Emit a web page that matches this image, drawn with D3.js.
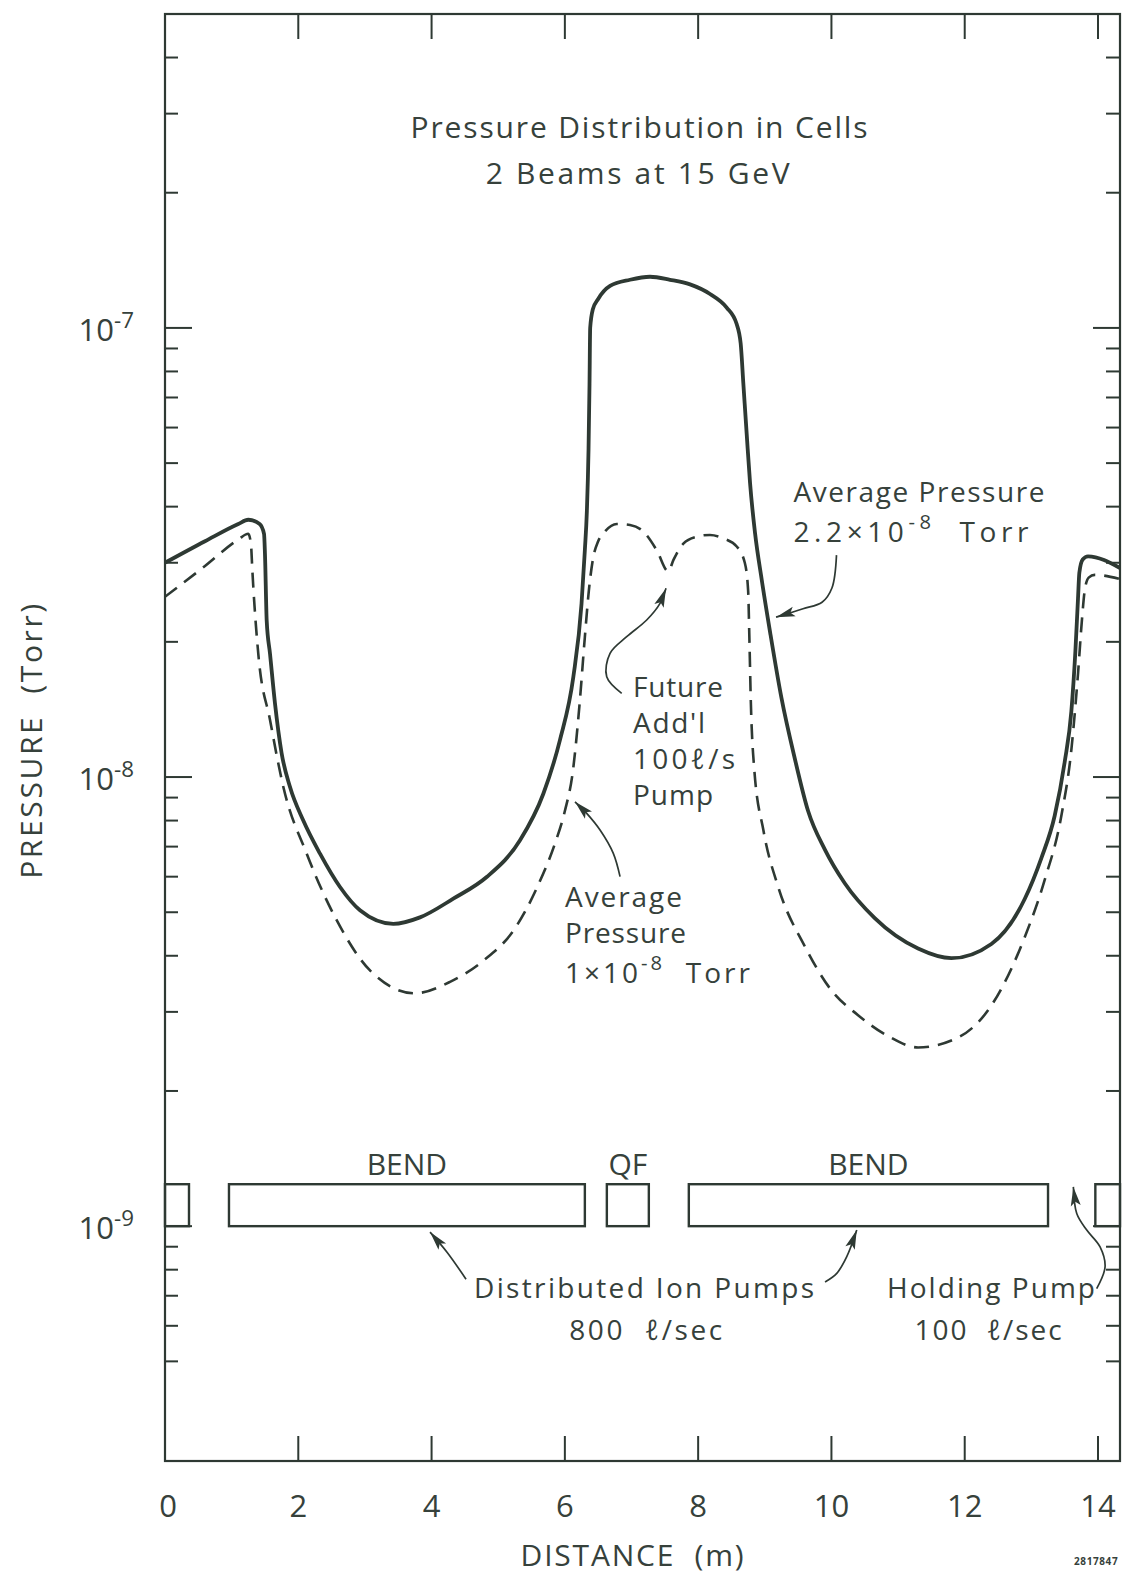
<!DOCTYPE html>
<html>
<head>
<meta charset="utf-8">
<script src="https://cdn.jsdelivr.net/npm/d3@7"></script>
<style>
  body { margin: 0; background: #fff; }
  svg text { font-family: "Open Sans", Lato, sans-serif; font-weight: 400; fill: #36413b; }
</style>
</head>
<body>
<div id="chart"></div>
<script>
let width = 1129;
let height = 1582;
let ink = "#2e3933";

// Pressure along the cell, full line (2 beams, present pumps)
const solidX = [0, 0.6, 1.1, 1.25, 1.42, 1.486, 1.50, 1.526, 1.576, 1.65, 1.75, 1.876, 2.075, 2.326,
  2.626, 2.926, 3.426, 3.826, 4.326, 4.827, 5.327, 5.677, 5.927, 6.127, 6.25, 6.30, 6.33, 6.355,
  6.37, 6.38, 6.42, 6.5, 6.678, 6.978, 7.278, 7.578, 7.878, 8.178, 8.428, 8.578, 8.638, 8.678,
  8.728, 8.779, 8.854, 8.954, 9.08, 9.25, 9.45, 9.65, 9.9, 10.2, 10.65, 11.3, 11.8, 12.4, 12.9,
  13.15, 13.35, 13.5, 13.6, 13.66, 13.7, 13.72, 13.77, 13.85, 14.33];
const solidP = [3.0e-8, 3.35e-8, 3.66e-8, 3.74e-8, 3.66e-8, 3.48e-8, 3.14e-8, 2.23e-8, 1.88e-8,
  1.46e-8, 1.13e-8, 9.5e-9, 8.0e-9, 6.75e-9, 5.69e-9, 5.05e-9, 4.71e-9, 4.87e-9, 5.36e-9, 5.99e-9,
  7.23e-9, 9.18e-9, 1.21e-8, 1.67e-8, 2.43e-8, 3.2e-8, 3.9e-8, 5.35e-8, 7.5e-8, 1.0e-7, 1.1e-7,
  1.16e-7, 1.24e-7, 1.28e-7, 1.30e-7, 1.28e-7, 1.25e-7, 1.19e-7, 1.11e-7, 1.02e-7, 9.24e-8,
  7.53e-8, 5.82e-8, 4.51e-8, 3.49e-8, 2.75e-8, 2.1e-8, 1.5e-8, 1.1e-8, 8.4e-9, 6.9e-9, 5.8e-9,
  4.85e-9, 4.15e-9, 3.95e-9, 4.25e-9, 5.35e-9, 6.6e-9, 8.2e-9, 1.08e-8, 1.4e-8, 1.9e-8, 2.5e-8,
  2.85e-8, 3.05e-8, 3.1e-8, 2.92e-8];

// Pressure with the future additional 100 l/s pump (dashed)
const dashedX = [0, 0.6, 1.1, 1.25, 1.29, 1.31, 1.325, 1.40, 1.576, 1.776, 2.126, 2.576, 3.076,
  3.75, 4.277, 4.777, 5.25, 5.6, 5.85, 6.0, 6.12, 6.22, 6.30, 6.36, 6.42, 6.5, 6.6, 6.778, 6.978,
  7.178, 7.378, 7.553, 7.628, 7.778, 7.979, 8.178, 8.378, 8.579, 8.70, 8.75, 8.77, 8.79, 8.84,
  8.98, 9.2, 9.6, 10.0, 10.4, 10.85, 11.3, 11.9, 12.4, 12.9, 13.2, 13.45, 13.6, 13.7, 13.76,
  13.8, 13.86, 13.95, 14.33];
const dashedP = [2.52e-8, 2.95e-8, 3.38e-8, 3.48e-8, 3.3e-8, 2.9e-8, 2.65e-8, 1.88e-8, 1.34e-8,
  9.5e-9, 6.75e-9, 4.8e-9, 3.71e-9, 3.3e-9, 3.5e-9, 3.9e-9, 4.6e-9, 5.75e-9, 7.1e-9, 8.4e-9,
  1.03e-8, 1.45e-8, 2.05e-8, 2.6e-8, 3.05e-8, 3.35e-8, 3.52e-8, 3.66e-8, 3.64e-8, 3.52e-8,
  3.2e-8, 2.87e-8, 3.04e-8, 3.31e-8, 3.43e-8, 3.46e-8, 3.4e-8, 3.26e-8, 3.0e-8, 2.6e-8, 2.0e-8,
  1.48e-8, 1.05e-8, 7.6e-9, 5.7e-9, 4.2e-9, 3.35e-9, 2.95e-9, 2.65e-9, 2.5e-9, 2.63e-9, 3.1e-9,
  4.4e-9, 5.9e-9, 8.2e-9, 1.15e-8, 1.7e-8, 2.25e-8, 2.6e-8, 2.78e-8, 2.82e-8, 2.76e-8];

// magnets / distributed pumps along the cell (m)
const magnetName = ["", "BEND", "QF", "BEND", ""];
const magnetStart = [0, 0.96, 6.63, 7.86, 13.96];
const magnetEnd = [0.36, 6.30, 7.26, 13.25, 14.33];
const magnetLow = 1e-9;
const magnetHigh = 1.24e-9;

// axes
const xDomain = [0, 14.33];
const yDomain = [3e-10, 5e-7];
const xTicks = [0, 2, 4, 6, 8, 10, 12, 14];
const decadeTicks = [1e-9, 1e-8, 1e-7];
const decadeExp = ["-9", "-8", "-7"];
const minorTicks = [5e-10, 6e-10, 7e-10, 8e-10, 9e-10,
  2e-9, 3e-9, 4e-9, 5e-9, 6e-9, 7e-9, 8e-9, 9e-9,
  2e-8, 3e-8, 4e-8, 5e-8, 6e-8, 7e-8, 8e-8, 9e-8,
  2e-7, 3e-7, 4e-7];

// annotation blocks: x (m), anchor, lines of [pressure (Torr), parts [text, superscript?], width]
const notes = [
  [9.43, "start", [
    [4.10e-8, [["Average Pressure", false]], 251],
    [3.34e-8, [["2.2×10", false], ["-8", true], ["  Torr", false]], 235]]],
  [7.023, "start", [
    [1.507e-8, [["Future", false]], 90],
    [1.253e-8, [["Add'l", false]], 72],
    [1.042e-8, [["100ℓ/s", false]], 102],
    [8.66e-9, [["Pump", false]], 80]]],
  [6.002, "start", [
    [5.135e-9, [["Average", false]], 117],
    [4.27e-9, [["Pressure", false]], 121],
    [3.476e-9, [["1×10", false], ["-8", true], ["  Torr", false]], 185]]],
  [4.637, "start", [[6.91e-10, [["Distributed Ion Pumps", false]], 340]]],
  [7.233, "middle", [[5.57e-10, [["800  ℓ/sec", false]], 153]]],
  [10.834, "start", [[6.91e-10, [["Holding Pump", false]], 208]]],
  [12.365, "middle", [[5.57e-10, [["100  ℓ/sec", false]], 147]]]
];

// arrows drawn from label to feature, points in (m, Torr)
const arrows = [
  [[10.076, 3.12e-8], [10.009, 2.64e-8], [9.859, 2.45e-8], [9.574, 2.37e-8], [9.169, 2.27e-8]],
  [[6.853, 1.536e-8], [6.628, 1.672e-8], [6.678, 1.886e-8], [6.928, 2.053e-8], [7.228, 2.237e-8],
    [7.428, 2.436e-8], [7.518, 2.632e-8]],
  [[6.828, 6.0e-9], [6.727, 6.76e-9], [6.528, 7.62e-9], [6.328, 8.3e-9], [6.152, 8.81e-9]],
  [[4.517, 7.62e-10], [4.232, 8.75e-10], [3.977, 9.7e-10]],
  [[9.904, 7.51e-10], [10.08, 7.85e-10], [10.23, 8.55e-10], [10.38, 9.8e-10]],
  [[13.98, 7.26e-10], [14.106, 8.12e-10], [14.031, 8.99e-10], [13.831, 9.8e-10],
    [13.681, 1.067e-9], [13.63, 1.223e-9]]
];

let svg = d3.select("#chart").append("svg")
  .attr("width", width)
  .attr("height", height);

svg.append("rect").attr("width", width).attr("height", height).attr("fill", "#fff");

let x = d3.scaleLinear().domain(xDomain).range([165, 1120]);
let y = d3.scaleLog().domain(yDomain).range([1461, 14]);

// one line of text made of tspans; superscripts are raised and smaller,
// letter spacing is set so the line gets the width it has in the figure
function addLine(t, parts, px, py, size, target) {
  let spans = [];
  let up = false;
  parts.forEach(function(p, k) {
    let s = t.append("tspan").text(p[0]);
    if (k == 0) s.attr("x", px).attr("y", py);
    if (p[1] && !up) { s.attr("dy", -13).attr("font-size", size * 0.72); up = true; }
    else if (!p[1] && up) { s.attr("dy", 13); up = false; }
    spans.push(s);
  });
  if (target) {
    let w = 0, n = 0;
    for (let s of spans) { w += s.node().getComputedTextLength(); n += s.text().length; }
    if (n > 1) for (let s of spans) s.attr("letter-spacing", (target - w) / (n - 1));
  }
}

function addText(parts, px, py, size, anchor, target) {
  let t = svg.append("text")
    .attr("font-size", size)
    .attr("text-anchor", anchor)
    .style("white-space", "pre");
  addLine(t, parts, px, py, size, target);
  return t;
}

svg.append("clipPath").attr("id", "plot")
  .append("rect").attr("x", 165).attr("y", 14).attr("width", 955).attr("height", 1447);

// frame
svg.append("rect")
  .attr("x", x(xDomain[0])).attr("y", y(yDomain[1]))
  .attr("width", x(xDomain[1]) - x(xDomain[0]))
  .attr("height", y(yDomain[0]) - y(yDomain[1]))
  .attr("fill", "none").attr("stroke", ink).attr("stroke-width", 2.2);

// x ticks, inside on top and bottom
let ticks = svg.append("g").attr("stroke", ink).attr("stroke-width", 2);
for (let v of xTicks.filter(d => d > 0)) {
  ticks.append("line").attr("x1", x(v)).attr("x2", x(v)).attr("y1", y(yDomain[0])).attr("y2", y(yDomain[0]) - 25);
  ticks.append("line").attr("x1", x(v)).attr("x2", x(v)).attr("y1", y(yDomain[1])).attr("y2", y(yDomain[1]) + 25);
}
// y ticks, inside on left and right
for (let v of decadeTicks) {
  ticks.append("line").attr("x1", x(0)).attr("x2", x(0) + 27).attr("y1", y(v)).attr("y2", y(v));
  ticks.append("line").attr("x1", x(xDomain[1])).attr("x2", x(xDomain[1]) - 27).attr("y1", y(v)).attr("y2", y(v));
}
for (let v of minorTicks) {
  ticks.append("line").attr("x1", x(0)).attr("x2", x(0) + 13).attr("y1", y(v)).attr("y2", y(v));
  ticks.append("line").attr("x1", x(xDomain[1])).attr("x2", x(xDomain[1]) - 14).attr("y1", y(v)).attr("y2", y(v));
}

// tick labels
for (let v of xTicks) {
  addText([[String(v), false]], x(v) + (v == 0 ? 3 : 0), 1517, 31, "middle");
}
decadeTicks.forEach(function(v, i) {
  addText([["10", false], [decadeExp[i], true]], 134, y(v) + 13, 31, "end");
});

// axis titles
addText([["DISTANCE  (m)", false]], 633, 1566, 30, "middle", 223);
let yt = svg.append("text")
  .attr("transform", "translate(42,740) rotate(-90)")
  .attr("font-size", 30).attr("text-anchor", "middle")
  .style("white-space", "pre");
addLine(yt, [["PRESSURE  (Torr)", false]], 0, 0, 30, 275);

addText([["Pressure Distribution in Cells", false]], 640, 138, 30, "middle", 457);
addText([["2 Beams at 15 GeV", false]], 639, 184, 30, "middle", 304);

// magnets
let mag = svg.append("g");
magnetStart.forEach(function(s, i) {
  mag.append("rect")
    .attr("x", x(s)).attr("y", y(magnetHigh))
    .attr("width", x(magnetEnd[i]) - x(s))
    .attr("height", y(magnetLow) - y(magnetHigh))
    .attr("fill", "none").attr("stroke", ink).attr("stroke-width", 2.4);
  if (magnetName[i]) {
    addText([[magnetName[i], false]], x((s + magnetEnd[i]) / 2), 1175, 30, "middle");
  }
});

// curves
let line = d3.line()
  .x(d => x(d[0]))
  .y(d => y(d[1]))
  .curve(d3.curveMonotoneX);

let curves = svg.append("g").attr("clip-path", "url(#plot)");
curves.append("path")
  .datum(d3.zip(solidX, solidP))
  .attr("d", line)
  .attr("fill", "none").attr("stroke", ink).attr("stroke-width", 3.8)
  .attr("stroke-linejoin", "round");
curves.append("path")
  .datum(d3.zip(dashedX, dashedP))
  .attr("d", line)
  .attr("fill", "none").attr("stroke", ink).attr("stroke-width", 2.6)
  .attr("stroke-dasharray", "15,9");

// annotations, each block is one text element
for (let n of notes) {
  let t = svg.append("text")
    .attr("font-size", 28)
    .attr("text-anchor", n[1])
    .style("white-space", "pre");
  for (let ln of n[2]) addLine(t, ln[1], x(n[0]), y(ln[0]), 28, ln[2]);
}

let arrowLine = d3.line()
  .x(d => x(d[0]))
  .y(d => y(d[1]))
  .curve(d3.curveCatmullRom.alpha(0.5));

for (let a of arrows) {
  svg.append("path").datum(a).attr("d", arrowLine)
    .attr("fill", "none").attr("stroke", ink).attr("stroke-width", 1.7);
  let p1 = a[a.length - 2], p2 = a[a.length - 1];
  let tx = x(p2[0]), ty = y(p2[1]);
  let dx = tx - x(p1[0]), dy = ty - y(p1[1]);
  let l = Math.sqrt(dx * dx + dy * dy);
  dx /= l; dy /= l;
  let len = 19, hw = 5;
  let bx = tx - dx * len, by = ty - dy * len;
  svg.append("path")
    .attr("d", `M${tx},${ty}L${bx - dy * hw},${by + dx * hw}L${bx + dx * 4},${by + dy * 4}L${bx + dy * hw},${by - dx * hw}Z`)
    .attr("fill", ink);
}

svg.append("text")
  .attr("x", 1074).attr("y", 1565)
  .attr("font-size", 10).style("font-weight", 700)
  .attr("letter-spacing", 0.6)
  .text("2817847");
</script>
</body>
</html>
